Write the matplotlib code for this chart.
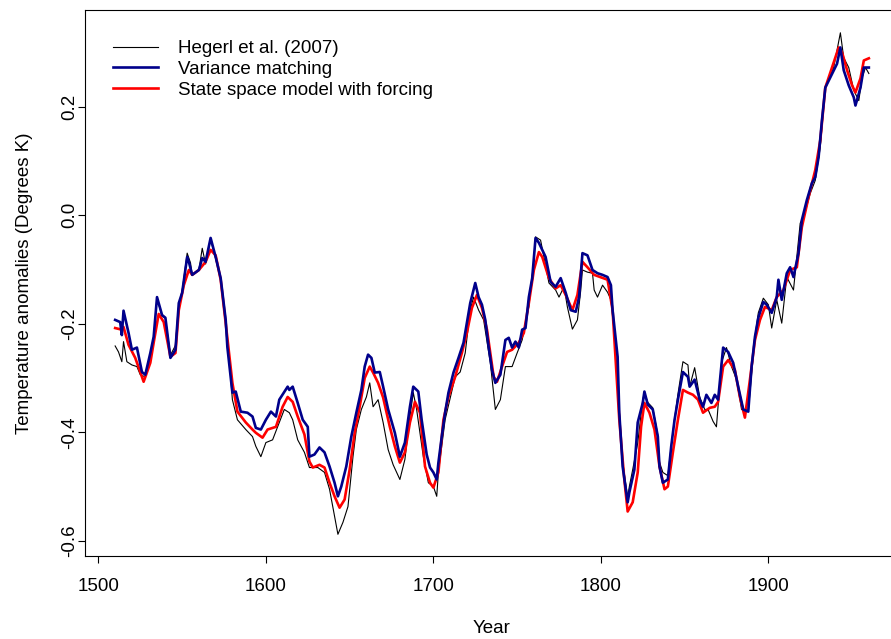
import matplotlib
matplotlib.use("Agg")
import matplotlib.pyplot as plt

plt.rcParams["font.family"] = ["Liberation Sans", "DejaVu Sans"]

# Hegerl et al. (2007) reconstruction
hegerl_year = [1510, 1512, 1514, 1515, 1517, 1520, 1523, 1525, 1528, 1531, 1533, 1535,
               1538, 1540, 1543, 1546, 1548, 1550, 1553, 1555, 1556, 1560, 1562, 1564,
               1567, 1570, 1573, 1576, 1578, 1580, 1583, 1588, 1592, 1594, 1597, 1600,
               1604, 1607, 1611, 1614, 1616, 1619, 1623, 1626, 1631, 1635, 1638, 1641,
               1643, 1646, 1649, 1652, 1654, 1657, 1660, 1662, 1664, 1667, 1670, 1673,
               1676, 1680, 1683, 1686, 1688, 1690, 1694, 1697, 1700, 1702, 1703, 1707,
               1713, 1716, 1719, 1722, 1724, 1727, 1730, 1734, 1737, 1740, 1743, 1747,
               1750, 1753, 1757, 1760, 1761, 1764, 1766, 1769, 1773, 1775, 1778, 1780,
               1783, 1786, 1788, 1789, 1792, 1795, 1796, 1798, 1801, 1804, 1806, 1807,
               1810, 1811, 1813, 1816, 1817, 1819, 1822, 1825, 1826, 1828, 1831, 1834,
               1835, 1837, 1840, 1842, 1844, 1846, 1849, 1852, 1853, 1856, 1859, 1862,
               1864, 1867, 1869, 1872, 1875, 1878, 1881, 1884, 1888, 1892, 1894, 1897,
               1900, 1902, 1905, 1908, 1911, 1915, 1919, 1922, 1925, 1928, 1931, 1934,
               1939, 1943, 1945, 1948, 1951, 1954, 1956, 1958, 1960]
hegerl = [-0.241, -0.252, -0.270, -0.233, -0.270, -0.276, -0.279, -0.294, -0.298, -0.267, -0.224, -0.153,
          -0.186, -0.190, -0.258, -0.240, -0.165, -0.140, -0.070, -0.088, -0.110, -0.101, -0.061, -0.090,
          -0.045, -0.080, -0.118, -0.195, -0.260, -0.340, -0.377, -0.395, -0.408, -0.426, -0.445, -0.419,
          -0.414, -0.390, -0.358, -0.364, -0.377, -0.414, -0.437, -0.465, -0.465, -0.474, -0.505, -0.555,
          -0.588, -0.566, -0.537, -0.445, -0.395, -0.358, -0.335, -0.309, -0.353, -0.340, -0.382, -0.432,
          -0.460, -0.487, -0.450, -0.371, -0.327, -0.358, -0.445, -0.493, -0.500, -0.518, -0.474, -0.377,
          -0.298, -0.289, -0.254, -0.175, -0.151, -0.175, -0.193, -0.272, -0.358, -0.340, -0.279, -0.279,
          -0.254, -0.230, -0.169, -0.083, -0.040, -0.046, -0.077, -0.125, -0.138, -0.151, -0.132, -0.169,
          -0.210, -0.193, -0.138, -0.101, -0.105, -0.107, -0.138, -0.151, -0.129, -0.142, -0.156, -0.185,
          -0.265, -0.360, -0.455, -0.520, -0.500, -0.469, -0.420, -0.340, -0.327, -0.345, -0.355, -0.405,
          -0.455, -0.474, -0.480, -0.425, -0.375, -0.330, -0.270, -0.276, -0.316, -0.281, -0.335, -0.358,
          -0.358, -0.380, -0.390, -0.272, -0.244, -0.279, -0.303, -0.358, -0.362, -0.224, -0.180, -0.153,
          -0.165, -0.208, -0.156, -0.199, -0.114, -0.138, -0.015, 0.006, 0.040, 0.064, 0.125, 0.235,
          0.272, 0.336, 0.290, 0.272, 0.230, 0.211, 0.254, 0.272, 0.261]

# variance matching
var_year = [1510, 1513, 1514, 1515, 1518, 1520, 1523, 1526, 1528, 1531, 1533, 1535,
            1538, 1540, 1543, 1546, 1548, 1550, 1553, 1554, 1556, 1560, 1562, 1564,
            1567, 1570, 1573, 1576, 1577, 1580, 1582, 1585, 1589, 1592, 1594, 1597,
            1600, 1603, 1606, 1608, 1613, 1614, 1616, 1619, 1622, 1625, 1626, 1629,
            1632, 1635, 1638, 1641, 1643, 1645, 1648, 1651, 1654, 1657, 1659, 1661,
            1663, 1665, 1668, 1670, 1673, 1677, 1680, 1683, 1686, 1688, 1691, 1693,
            1696, 1698, 1700, 1702, 1703, 1705, 1707, 1709, 1712, 1715, 1718, 1720,
            1722, 1725, 1727, 1729, 1731, 1733, 1735, 1737, 1740, 1743, 1745, 1747,
            1749, 1751, 1753, 1755, 1757, 1759, 1761, 1763, 1765, 1767, 1770, 1773,
            1776, 1779, 1782, 1785, 1787, 1789, 1792, 1795, 1798, 1801, 1804, 1806,
            1807, 1810, 1811, 1813, 1816, 1817, 1820, 1822, 1825, 1826, 1828, 1831,
            1834, 1835, 1837, 1840, 1842, 1844, 1846, 1849, 1852, 1853, 1856, 1859,
            1861, 1863, 1866, 1868, 1870, 1873, 1876, 1879, 1882, 1885, 1888, 1890,
            1892, 1894, 1897, 1899, 1902, 1905, 1906, 1908, 1911, 1913, 1915, 1918,
            1920, 1923, 1926, 1928, 1930, 1932, 1934, 1937, 1939, 1941, 1943, 1945,
            1948, 1951, 1952, 1955, 1957, 1960]
var_match = [-0.193, -0.197, -0.221, -0.176, -0.217, -0.248, -0.244, -0.289, -0.294, -0.254, -0.224, -0.151,
             -0.184, -0.189, -0.263, -0.248, -0.162, -0.143, -0.077, -0.086, -0.110, -0.101, -0.079, -0.086,
             -0.042, -0.077, -0.116, -0.193, -0.243, -0.327, -0.325, -0.362, -0.364, -0.371, -0.392, -0.395,
             -0.377, -0.362, -0.371, -0.340, -0.316, -0.322, -0.316, -0.346, -0.377, -0.390, -0.445, -0.441,
             -0.428, -0.437, -0.463, -0.493, -0.518, -0.500, -0.463, -0.408, -0.364, -0.322, -0.279, -0.257,
             -0.263, -0.290, -0.289, -0.316, -0.358, -0.401, -0.445, -0.419, -0.353, -0.316, -0.325, -0.377,
             -0.441, -0.465, -0.474, -0.487, -0.456, -0.408, -0.364, -0.327, -0.290, -0.263, -0.235, -0.199,
             -0.162, -0.125, -0.151, -0.165, -0.193, -0.243, -0.285, -0.309, -0.294, -0.230, -0.226, -0.244,
             -0.233, -0.244, -0.211, -0.208, -0.151, -0.116, -0.042, -0.051, -0.064, -0.077, -0.123, -0.132,
             -0.116, -0.143, -0.175, -0.178, -0.151, -0.070, -0.074, -0.101, -0.107, -0.110, -0.114, -0.129,
             -0.175, -0.261, -0.364, -0.463, -0.529, -0.511, -0.469, -0.382, -0.346, -0.325, -0.349, -0.358,
             -0.408, -0.463, -0.493, -0.487, -0.426, -0.377, -0.340, -0.289, -0.298, -0.316, -0.303, -0.340,
             -0.353, -0.331, -0.346, -0.331, -0.340, -0.244, -0.252, -0.272, -0.316, -0.358, -0.362, -0.279,
             -0.224, -0.189, -0.160, -0.165, -0.180, -0.151, -0.119, -0.156, -0.107, -0.096, -0.114, -0.070,
             -0.009, 0.028, 0.059, 0.070, 0.107, 0.175, 0.235, 0.254, 0.267, 0.279, 0.309, 0.267,
             0.239, 0.217, 0.202, 0.235, 0.272, 0.272]

# state space model with forcing
ssm_year = [1510, 1514, 1515, 1518, 1522, 1525, 1527, 1531, 1533, 1536, 1539, 1543,
            1546, 1548, 1551, 1554, 1556, 1560, 1564, 1567, 1570, 1573, 1576, 1580,
            1583, 1588, 1592, 1594, 1598, 1601, 1606, 1610, 1613, 1616, 1619, 1623,
            1626, 1628, 1632, 1635, 1638, 1641, 1644, 1647, 1650, 1653, 1656, 1659,
            1662, 1664, 1667, 1670, 1674, 1677, 1680, 1683, 1686, 1689, 1692, 1695,
            1698, 1700, 1703, 1706, 1709, 1713, 1717, 1720, 1723, 1726, 1729, 1732,
            1736, 1738, 1741, 1744, 1747, 1751, 1754, 1757, 1760, 1763, 1765, 1769,
            1773, 1776, 1779, 1783, 1786, 1789, 1792, 1796, 1804, 1807, 1811, 1814,
            1816, 1819, 1822, 1824, 1826, 1829, 1832, 1835, 1838, 1840, 1843, 1846,
            1849, 1852, 1855, 1858, 1861, 1865, 1868, 1870, 1873, 1876, 1880, 1883,
            1886, 1889, 1892, 1895, 1898, 1902, 1905, 1909, 1913, 1917, 1920, 1924,
            1928, 1931, 1934, 1938, 1942, 1944, 1947, 1950, 1952, 1955, 1957, 1960]
ssm = [-0.208, -0.211, -0.206, -0.239, -0.263, -0.289, -0.307, -0.272, -0.235, -0.182, -0.197, -0.261,
       -0.254, -0.175, -0.129, -0.101, -0.110, -0.101, -0.086, -0.064, -0.074, -0.119, -0.199, -0.309,
       -0.362, -0.382, -0.395, -0.401, -0.410, -0.395, -0.390, -0.353, -0.335, -0.344, -0.371, -0.404,
       -0.454, -0.465, -0.460, -0.465, -0.493, -0.518, -0.539, -0.524, -0.469, -0.401, -0.353, -0.300,
       -0.279, -0.290, -0.309, -0.336, -0.390, -0.426, -0.456, -0.437, -0.382, -0.344, -0.364, -0.463,
       -0.493, -0.502, -0.474, -0.377, -0.335, -0.298, -0.254, -0.217, -0.171, -0.147, -0.171, -0.211,
       -0.298, -0.307, -0.279, -0.252, -0.248, -0.235, -0.217, -0.162, -0.101, -0.068, -0.077, -0.116,
       -0.135, -0.129, -0.147, -0.175, -0.147, -0.086, -0.096, -0.110, -0.119, -0.175, -0.377, -0.487,
       -0.546, -0.529, -0.474, -0.390, -0.346, -0.364, -0.395, -0.463, -0.505, -0.500, -0.437, -0.377,
       -0.322, -0.327, -0.331, -0.340, -0.364, -0.355, -0.353, -0.344, -0.279, -0.267, -0.285, -0.335,
       -0.373, -0.303, -0.230, -0.193, -0.169, -0.175, -0.151, -0.138, -0.101, -0.096, -0.022, 0.033,
       0.083, 0.138, 0.235, 0.272, 0.309, 0.300, 0.267, 0.239, 0.226, 0.252, 0.285, 0.289]

FS = 13.5

fig = plt.figure(figsize=(8.91, 6.39), dpi=100)
ax = fig.add_axes([85 / 891, 83 / 639, 814 / 891, 546 / 639])

ax.plot(hegerl_year, hegerl, color="black", lw=0.8, label="Hegerl et al. (2007)")
ax.plot(ssm_year, ssm, color="#FF0000", lw=1.9, label="State space model with forcing")
ax.plot(var_year, var_match, color="#00008B", lw=1.9, label="Variance matching")

ax.set_xlim(1492, 1978)
ax.set_ylim(-0.628, 0.378)
ax.set_xticks([1500, 1600, 1700, 1800, 1900])
ax.set_yticks([-0.6, -0.4, -0.2, 0.0, 0.2])
ax.set_yticklabels(["-0.6", "-0.4", "-0.2", "0.0", "0.2"], rotation=90, va="center")
ax.tick_params(direction="out", length=5, width=0.8, labelsize=FS, colors="black")
ax.tick_params(axis="x", pad=11)
ax.tick_params(axis="y", pad=0)
for s in ax.spines.values():
    s.set_linewidth(0.8)

ax.set_xlabel("Year", fontsize=FS, labelpad=18)
ax.set_ylabel("Temperature anomalies (Degrees K)", fontsize=FS, labelpad=20)

# legend order as in the original: data, variance matching, state space
h, l = ax.get_legend_handles_labels()
order = [0, 2, 1]
ax.legend([h[i] for i in order], [l[i] for i in order], loc="upper left",
          bbox_to_anchor=(0.034, 0.945), frameon=False, fontsize=FS,
          handlelength=2.4, handletextpad=1.1, labelspacing=0.2, borderpad=0,
          borderaxespad=0)

fig.savefig("out.png", dpi=100)
